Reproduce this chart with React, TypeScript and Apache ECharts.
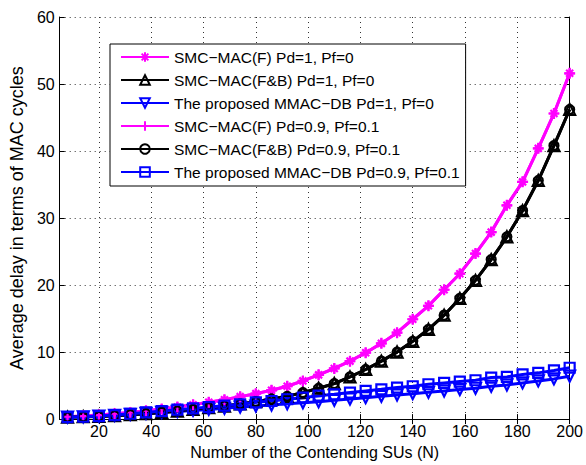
import React, { useEffect, useRef } from "react";
import * as echarts from "echarts";

const N = [8, 14, 20, 26, 32, 38, 44, 50, 56, 62, 68, 74, 80, 86, 92, 98, 104, 110, 116, 122, 128, 134, 140, 146, 152, 158, 164, 170, 176, 182, 188, 194, 200];

const smcF_pd1 = [0.35, 0.45, 0.6, 0.8, 1.0, 1.25, 1.5, 1.8, 2.15, 2.5, 2.9, 3.35, 3.8, 4.3, 4.9, 5.7, 6.6, 7.56, 8.65, 9.9, 11.3, 12.9, 14.9, 16.9, 19.3, 21.7, 24.7, 27.9, 31.9, 35.4, 40.4, 45.6, 51.6];
const smcFB_pd1 = [0.3, 0.35, 0.4, 0.5, 0.65, 0.8, 1.0, 1.2, 1.45, 1.7, 1.95, 2.25, 2.6, 3.0, 3.4, 3.95, 4.6, 5.3, 6.3, 7.4, 8.65, 10.0, 11.6, 13.4, 15.5, 18.0, 20.7, 23.8, 27.2, 31.1, 35.6, 40.8, 46.2];
const mmac_pd1 = [0.3, 0.35, 0.45, 0.55, 0.7, 0.85, 1.0, 1.15, 1.3, 1.45, 1.6, 1.8, 1.95, 2.1, 2.3, 2.45, 2.6, 2.8, 3.0, 3.2, 3.4, 3.6, 3.8, 4.0, 4.2, 4.4, 4.6, 4.9, 5.1, 5.4, 5.7, 6.0, 6.4];
const smcF_pd09 = [0.35, 0.45, 0.6, 0.8, 1.0, 1.25, 1.5, 1.8, 2.15, 2.5, 2.9, 3.35, 3.8, 4.3, 4.9, 5.7, 6.6, 7.56, 8.65, 9.9, 11.3, 12.9, 14.9, 16.9, 19.3, 21.7, 24.7, 27.9, 31.9, 35.4, 40.4, 45.6, 51.6];
const smcFB_pd09 = [0.3, 0.35, 0.4, 0.5, 0.65, 0.8, 1.0, 1.2, 1.45, 1.7, 1.95, 2.25, 2.6, 3.0, 3.4, 3.95, 4.6, 5.3, 6.3, 7.4, 8.65, 10.0, 11.6, 13.4, 15.5, 18.0, 20.7, 23.8, 27.2, 31.1, 35.6, 40.8, 46.2];
const mmac_pd09 = [0.3, 0.35, 0.45, 0.6, 0.8, 1.0, 1.2, 1.4, 1.6, 1.8, 2.0, 2.2, 2.5, 2.7, 2.96, 3.2, 3.5, 3.7, 3.96, 4.2, 4.44, 4.7, 4.9, 5.2, 5.4, 5.6, 5.8, 6.2, 6.3, 6.67, 6.9, 7.26, 7.66];

const seriesNames = [
  "SMC\u2212MAC(F) Pd=1, Pf=0",
  "SMC\u2212MAC(F&B) Pd=1, Pf=0",
  "The proposed MMAC\u2212DB Pd=1, Pf=0",
  "SMC\u2212MAC(F) Pd=0.9, Pf=0.1",
  "SMC\u2212MAC(F&B) Pd=0.9, Pf=0.1",
  "The proposed MMAC\u2212DB Pd=0.9, Pf=0.1",
];

const xTicks = [20, 40, 60, 80, 100, 120, 140, 160, 180, 200];

const ASTERISK = "path://M10,0L10,20M0,10L20,10M3,3L17,17M3,17L17,3";
const PLUS = "path://M10,0L10,20M0,10L20,10";

export default function App() {
  const ref = useRef<HTMLDivElement>(null);
  useEffect(() => {
    document.body.style.margin = "0";
    const chart = echarts.init(ref.current!, null, { renderer: "svg" });
    const font = "Liberation Sans, Arial, sans-serif";
    const mk = (
      name: string,
      data: number[],
      color: string,
      symbol: string,
      size: number,
      rotate = 0,
      fill = "rgba(0,0,0,0)"
    ) => ({
      type: "line",
      name,
      data: N.map((x, i) => [x, data[i]]),
      symbol,
      symbolSize: size,
      symbolRotate: rotate,
      showAllSymbol: true,
      lineStyle: { color, width: 3 },
      itemStyle: { color: fill, borderColor: color, borderWidth: 2.2 },
      emphasis: { disabled: true },
    });
    const series = [
      mk(seriesNames[0], smcF_pd1, "#ff00ff", ASTERISK, 10),
      mk(seriesNames[1], smcFB_pd1, "#000000", "triangle", 11),
      mk(seriesNames[2], mmac_pd1, "#0000ff", "triangle", 11, 180),
      mk(seriesNames[3], smcF_pd09, "#ff00ff", PLUS, 11),
      mk(seriesNames[4], smcFB_pd09, "#000000", "circle", 9),
      mk(seriesNames[5], mmac_pd09, "#0000ff", "rect", 10),
    ];
    const axisLine = { show: true, lineStyle: { color: "#000", width: 1 } };
    chart.setOption({
      animation: false,
      backgroundColor: "#fff",
      textStyle: { fontFamily: font },
      grid: { left: 58, right: 14, top: 17, bottom: 43, show: false },
      legend: {
        orient: "vertical",
        left: 110,
        top: 44,
        itemWidth: 48,
        itemHeight: 12,
        itemGap: 7,
        padding: [5, 6, 6, 10],
        backgroundColor: "#fff",
        borderColor: "#000",
        borderWidth: 1,
        borderRadius: 0,
        textStyle: { fontSize: 15.5, color: "#000", fontFamily: font },
        data: seriesNames,
        selectedMode: false,
      },
      xAxis: [
        {
          type: "value",
          min: 5,
          max: 200,
          name: "Number of the Contending SUs (N)",
          nameLocation: "middle",
          nameGap: 22,
          nameTextStyle: { fontSize: 16, color: "#000", fontFamily: font },
          axisLine,
          axisTick: { show: true, inside: true, length: 5, customValues: xTicks, lineStyle: { color: "#000" } },
          axisLabel: { fontSize: 16, color: "#000", margin: 4, customValues: xTicks, fontFamily: font },
          splitLine: { show: true, lineStyle: { color: "#333", type: [1, 4], width: 1 } },
        },
        {
          type: "value",
          position: "top",
          min: 5,
          max: 200,
          axisLine,
          axisTick: { show: true, inside: true, length: 5, customValues: xTicks, lineStyle: { color: "#000" } },
          axisLabel: { show: false },
          splitLine: { show: false },
        },
      ],
      yAxis: [
        {
          type: "value",
          min: 0,
          max: 60,
          interval: 10,
          name: "Average delay in terms of MAC cycles",
          nameLocation: "middle",
          nameGap: 33,
          nameTextStyle: { fontSize: 18, color: "#000", fontFamily: font },
          axisLine,
          axisTick: { show: true, inside: true, length: 5, lineStyle: { color: "#000" } },
          axisLabel: { fontSize: 16, color: "#000", margin: 5, fontFamily: font },
          splitLine: { show: true, lineStyle: { color: "#333", type: [1, 4], width: 1 } },
        },
        {
          type: "value",
          position: "right",
          min: 0,
          max: 60,
          interval: 10,
          axisLine,
          axisTick: { show: true, inside: true, length: 5, lineStyle: { color: "#000" } },
          axisLabel: { show: false },
          splitLine: { show: false },
        },
      ],
      series,
    });
    return () => chart.dispose();
  }, []);
  return (
    <div
      ref={ref}
      style={{ position: "absolute", left: 0, top: 0, width: 586, height: 465 }}
    />
  );
}
